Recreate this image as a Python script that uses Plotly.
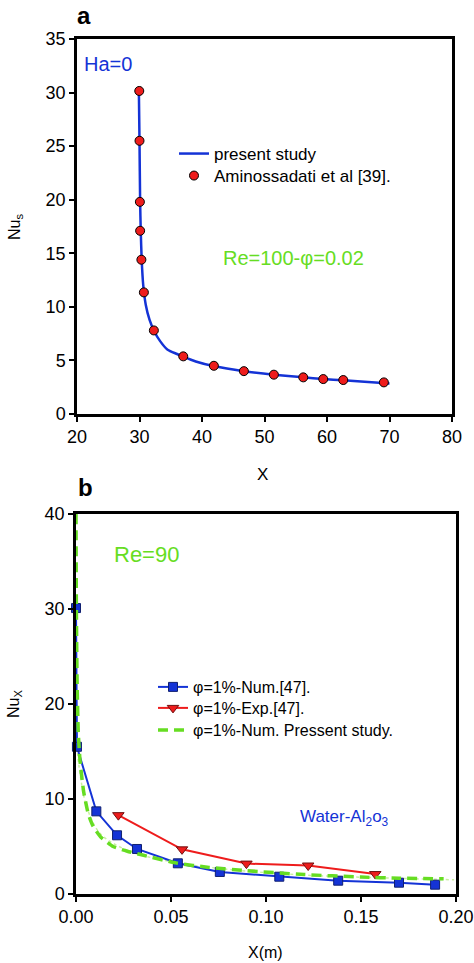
import plotly.graph_objects as go

W, H = 474, 963

# ---- Panel a data ----
a_line_x = [29.9, 30.0, 30.1, 30.2, 30.35, 30.6, 31.0, 31.6, 32.3, 33.3, 34.5, 36.0, 37.0, 39.0, 42.0, 46.7, 51.5, 56.2, 59.4, 62.6, 66.0, 70.0]
a_line_y = [30.1, 25.5, 19.8, 17.1, 14.4, 12.0, 10.2, 8.8, 7.8, 6.8, 6.0, 5.6, 5.35, 4.9, 4.45, 4.0, 3.67, 3.42, 3.26, 3.15, 3.0, 2.85]
a_pts_x = [29.96, 30.0, 30.06, 30.1, 30.3, 30.7, 32.3, 37.0, 41.9, 46.7, 51.5, 56.2, 59.4, 62.6, 69.1]
a_pts_y = [30.15, 25.5, 19.8, 17.1, 14.4, 11.35, 7.8, 5.38, 4.5, 4.0, 3.67, 3.42, 3.26, 3.17, 2.95]

# ---- Panel b data ----
b_num_x = [0.0, 0.0005, 0.0107, 0.0216, 0.0321, 0.0536, 0.0757, 0.107, 0.138, 0.170, 0.189]
b_num_y = [30.1, 15.5, 8.7, 6.18, 4.74, 3.23, 2.32, 1.82, 1.40, 1.19, 0.98]
b_exp_x = [0.0223, 0.0558, 0.0897, 0.1222, 0.1575]
b_exp_y = [8.3, 4.7, 3.2, 3.0, 2.1]
b_pres_x = [0.0, 0.0002, 0.0006, 0.0012, 0.0021, 0.004, 0.0065, 0.0091, 0.013, 0.0195, 0.027, 0.035, 0.053, 0.07, 0.09, 0.12, 0.15, 0.17, 0.1935]
b_pres_y = [40.0, 30.0, 22.0, 17.0, 14.1, 10.8, 8.4, 7.1, 6.0, 5.0, 4.5, 4.1, 3.25, 2.8, 2.45, 2.05, 1.78, 1.66, 1.6]
b_dot_x = [0.0, 0.0008, 0.0021, 0.0056, 0.0126, 0.0267, 0.05, 0.08, 0.12, 0.16, 0.199]
b_dot_y = [18.0, 15.0, 12.7, 9.2, 6.4, 4.63, 3.4, 2.6, 2.0, 1.7, 1.5]

BLUE = "#1433d6"
RED = "#ee1c1c"
GREEN = "#66dd22"
FONT = "Liberation Sans, Arial, sans-serif"

fig = go.Figure()

fig.add_trace(go.Scatter(x=a_line_x, y=a_line_y, mode="lines", name="present study",
                         line=dict(color=BLUE, width=2.5, shape="spline", smoothing=0.6),
                         xaxis="x", yaxis="y", legend="legend", cliponaxis=False))
fig.add_trace(go.Scatter(x=a_pts_x, y=a_pts_y, mode="markers", name="Aminossadati et al [39].",
                         marker=dict(color=RED, size=9, line=dict(color="black", width=1)),
                         xaxis="x", yaxis="y", legend="legend2", cliponaxis=False))

fig.add_trace(go.Scatter(x=b_dot_x, y=b_dot_y, mode="lines", showlegend=False,
                         line=dict(color="#c8f0a0", width=1.5, dash="dot", shape="spline"),
                         xaxis="x2", yaxis="y2", cliponaxis=False))
fig.add_trace(go.Scatter(x=b_num_x, y=b_num_y, mode="lines+markers", name="φ=1%-Num.[47].",
                         line=dict(color=BLUE, width=2),
                         marker=dict(symbol="square", color=BLUE, size=9, line=dict(color="#102070", width=1)),
                         xaxis="x2", yaxis="y2", legend="legend3", cliponaxis=False))
fig.add_trace(go.Scatter(x=b_exp_x, y=b_exp_y, mode="lines+markers", name="φ=1%-Exp.[47].",
                         line=dict(color=RED, width=2),
                         marker=dict(symbol="triangle-down", color=RED, size=10, line=dict(color="#701010", width=1)),
                         xaxis="x2", yaxis="y2", legend="legend4", cliponaxis=False))
fig.add_trace(go.Scatter(x=b_pres_x, y=b_pres_y, mode="lines", name="φ=1%-Num. Pressent study.",
                         line=dict(color=GREEN, width=3.5, dash="10px,6px", shape="spline", smoothing=0.5),
                         xaxis="x2", yaxis="y2", legend="legend5", cliponaxis=False))

axis_common = dict(showline=True, linecolor="black", linewidth=2.5, mirror=True,
                   ticks="outside", ticklen=5, tickwidth=1.5, tickcolor="black",
                   showgrid=False, zeroline=False, automargin=False,
                   tickfont=dict(family=FONT, size=18, color="black"))


def leg(x_text, y_center, size):
    return dict(x=(x_text - 40) / W, y=(H - y_center) / H, xanchor="left", yanchor="middle",
                bgcolor="rgba(0,0,0,0)", font=dict(family=FONT, size=size, color="black"),
                tracegroupgap=0, itemwidth=30)


fig.update_layout(
    width=W, height=H,
    margin=dict(l=0, r=0, t=0, b=0),
    paper_bgcolor="white", plot_bgcolor="white",
    font=dict(family=FONT, color="black"),
    xaxis=dict(domain=[77/W, 452/W], range=[20, 80], dtick=10, anchor="y", **axis_common),
    yaxis=dict(domain=[(H-414)/H, (H-39)/H], range=[0, 35], dtick=5, anchor="x", **axis_common),
    xaxis2=dict(domain=[76/W, 456/W], range=[0, 0.2], dtick=0.05, tickformat=".2f", anchor="y2", **axis_common),
    yaxis2=dict(domain=[(H-894)/H, (H-514)/H], range=[0, 40], dtick=10, anchor="x2", **axis_common),
    legend=leg(214, 154, 17),
    legend2=leg(214, 176, 17),
    legend3=leg(193, 687, 16),
    legend4=leg(193, 708, 16),
    legend5=leg(193, 730, 16),
)

ann = [
    dict(text="<b>a</b>", x=84/W, y=(H-16)/H, font=dict(size=24)),
    dict(text="<b>b</b>", x=85/W, y=(H-487)/H, font=dict(size=24)),
    dict(text="Ha=0", x=108/W, y=(H-64)/H, font=dict(size=20, color=BLUE)),
    dict(text="Re=100-φ=0.02", x=293/W, y=(H-258)/H, font=dict(size=20, color=GREEN)),
    dict(text="Re=90", x=146/W, y=(H-554)/H, font=dict(size=22, color=GREEN)),
    dict(text="Water-Al<sub>2</sub>o<sub>3</sub>", x=344/W, y=(H-818)/H, font=dict(size=17, color=BLUE)),
    dict(text="X", x=262/W, y=(H-474)/H, font=dict(size=17)),
    dict(text="X(m)", x=265/W, y=(H-952)/H, font=dict(size=16)),
    dict(text="Nu<sub>s</sub>", x=16/W, y=(H-227)/H, font=dict(size=16), textangle=-90),
    dict(text="Nu<sub>X</sub>", x=14/W, y=(H-704)/H, font=dict(size=16), textangle=-90),
]
for a in ann:
    a.setdefault("textangle", 0)
    fig.add_annotation(xref="paper", yref="paper", showarrow=False, xanchor="center", yanchor="middle",
                       **{k: v for k, v in a.items() if k != "font"},
                       font=dict(family=FONT, color=a["font"].get("color", "black"), size=a["font"]["size"]))

fig.write_html("out.html", config={"displayModeBar": False},
               post_script="document.body.style.margin='0px';document.body.style.overflow='hidden';")
